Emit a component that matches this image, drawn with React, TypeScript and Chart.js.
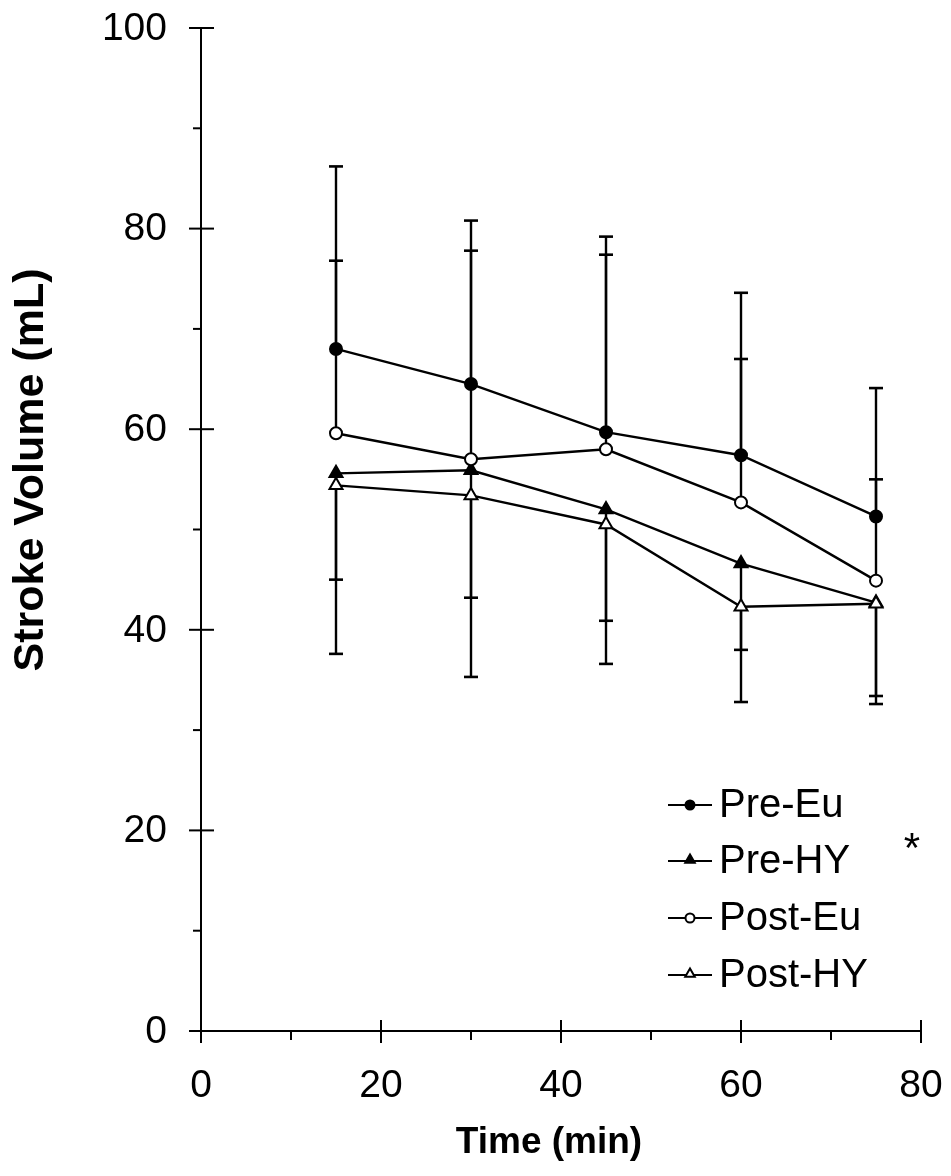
import { useEffect, useRef } from "react";
import { Chart, registerables } from "chart.js";

Chart.register(...registerables);

// Sampling times (min)
const times = [15, 30, 45, 60, 75];

// Mean stroke volume (mL) per condition
const preEu = [68.0, 64.5, 59.7, 57.4, 51.3];
const preHY = [55.6, 55.9, 52.0, 46.6, 42.7];
const postEu = [59.6, 57.0, 58.0, 52.7, 44.9];
const postHY = [54.4, 53.4, 50.5, 42.3, 42.6];

// Error bar ends (mean + SD for Eu, mean - SD for HY)
const preEuUpper = [86.2, 80.8, 79.2, 73.6, 64.1];
const postEuUpper = [76.8, 77.8, 77.4, 67.0, 55.0];
const preHYLower = [45.0, 43.2, 40.9, 38.0, 33.4];
const postHYLower = [37.6, 35.3, 36.6, 32.8, 32.6];

// Axis ticks
const xMajorTicks = [0, 20, 40, 60, 80];
const xMinorTicks = [10, 30, 50, 70];
const yMajorTicks = [0, 20, 40, 60, 80, 100];
const yMinorTicks = [10, 30, 50, 70, 90];

const seriesNames = ["Pre-Eu", "Pre-HY", "Post-Eu", "Post-HY"];
const xTitle = "Time (min)";
const yTitle = "Stroke Volume (mL)";
const significanceMark = "*";

const FONT = "'Liberation Sans', Arial, Helvetica, sans-serif";

type Marker = { style: "circle" | "triangle"; filled: boolean };
const markers: Marker[] = [
  { style: "circle", filled: true },
  { style: "triangle", filled: true },
  { style: "circle", filled: false },
  { style: "triangle", filled: false },
];

function drawMarker(
  ctx: CanvasRenderingContext2D,
  m: Marker,
  x: number,
  y: number,
  r: number
) {
  ctx.save();
  ctx.beginPath();
  if (m.style === "circle") {
    ctx.arc(x, y, r, 0, Math.PI * 2);
  } else {
    ctx.moveTo(x, y - r);
    ctx.lineTo(x + r * 0.866, y + r * 0.5);
    ctx.lineTo(x - r * 0.866, y + r * 0.5);
    ctx.closePath();
  }
  ctx.fillStyle = m.filled ? "#000" : "#fff";
  ctx.fill();
  ctx.lineWidth = 2;
  ctx.strokeStyle = "#000";
  ctx.stroke();
  ctx.restore();
}

const errorBarPlugin = {
  id: "errorBars",
  beforeDatasetsDraw(chart: any) {
    const { ctx, scales } = chart;
    const xs = scales.x;
    const ys = scales.y;
    ctx.save();
    ctx.strokeStyle = "#000";
    chart.data.datasets.forEach((ds: any) => {
      const ends: number[] = ds.errorEnds;
      ds.data.forEach((p: any, i: number) => {
        const px = xs.getPixelForValue(p.x);
        const py0 = ys.getPixelForValue(p.y);
        const py1 = ys.getPixelForValue(ends[i]);
        ctx.lineWidth = 2.4;
        ctx.beginPath();
        ctx.moveTo(px, py0);
        ctx.lineTo(px, py1);
        ctx.stroke();
        ctx.lineWidth = 2.6;
        ctx.beginPath();
        ctx.moveTo(px - 7, py1);
        ctx.lineTo(px + 7, py1);
        ctx.stroke();
      });
    });
    ctx.restore();
  },
};

const decorPlugin = {
  id: "decor",
  afterDraw(chart: any) {
    const { ctx, scales, chartArea } = chart;
    const xs = scales.x;
    const ys = scales.y;
    const left = chartArea.left;
    const bottom = chartArea.bottom;
    ctx.save();
    ctx.strokeStyle = "#000";
    ctx.fillStyle = "#000";
    ctx.lineWidth = 2;

    // y-axis ticks and labels
    ctx.font = `39px ${FONT}`;
    ctx.textBaseline = "middle";
    ctx.textAlign = "right";
    yMajorTicks.forEach((v) => {
      const py = ys.getPixelForValue(v);
      ctx.beginPath();
      ctx.moveTo(left - 12, py);
      ctx.lineTo(left + 13, py);
      ctx.stroke();
      ctx.fillText(String(v), left - 34, py + 1);
    });
    yMinorTicks.forEach((v) => {
      const py = ys.getPixelForValue(v);
      ctx.beginPath();
      ctx.moveTo(left - 8, py);
      ctx.lineTo(left, py);
      ctx.stroke();
    });

    // x-axis ticks and labels
    ctx.textAlign = "center";
    xMajorTicks.forEach((v) => {
      const px = xs.getPixelForValue(v);
      ctx.beginPath();
      ctx.moveTo(px, bottom - 11);
      ctx.lineTo(px, bottom + 12);
      ctx.stroke();
      ctx.fillText(String(v), px, bottom + 55);
    });
    xMinorTicks.forEach((v) => {
      const px = xs.getPixelForValue(v);
      ctx.beginPath();
      ctx.moveTo(px, bottom);
      ctx.lineTo(px, bottom + 9);
      ctx.stroke();
    });

    // axis titles
    ctx.font = `bold 37px ${FONT}`;
    ctx.fillText(xTitle, 549, 1143);
    ctx.save();
    ctx.translate(31, 470);
    ctx.rotate(-Math.PI / 2);
    ctx.font = `bold 43px ${FONT}`;
    ctx.fillText(yTitle, 0, 0);
    ctx.restore();

    // legend
    const rows = [805, 861, 918, 975];
    ctx.font = `40px ${FONT}`;
    seriesNames.forEach((name, i) => {
      const y = rows[i];
      ctx.beginPath();
      ctx.lineWidth = 2.2;
      ctx.moveTo(668, y);
      ctx.lineTo(712, y);
      ctx.stroke();
      const m = markers[i];
      drawMarker(
        ctx,
        m,
        690,
        m.style === "triangle" ? y - 1 : y,
        m.style === "triangle" ? 5.5 : 4.5
      );
      ctx.fillStyle = "#000";
      ctx.textAlign = "left";
      ctx.fillText(name, 719, y + 1);
    });
    ctx.font = `42px ${FONT}`;
    ctx.textAlign = "center";
    ctx.fillText(significanceMark, 912, 850);
    ctx.restore();
  },
};

function makeDataset(
  label: string,
  values: number[],
  ends: number[],
  m: Marker,
  order: number
) {
  return {
    label,
    data: times.map((t, i) => ({ x: t, y: values[i] })),
    errorEnds: ends,
    showLine: true,
    borderColor: "#000",
    borderWidth: 2.4,
    tension: 0,
    fill: false,
    pointStyle: m.style,
    pointRadius: m.style === "triangle" ? 7.5 : 6,
    pointBorderWidth: 2,
    pointBorderColor: "#000",
    pointBackgroundColor: m.filled ? "#000" : "#fff",
    order,
  };
}

export default function App() {
  const canvasRef = useRef<HTMLCanvasElement | null>(null);

  useEffect(() => {
    document.body.style.margin = "0";
    const canvas = canvasRef.current;
    if (!canvas) return;
    const chart = new Chart(canvas, {
      type: "scatter",
      data: {
        datasets: [
          makeDataset(seriesNames[0], preEu, preEuUpper, markers[0], 3),
          makeDataset(seriesNames[1], preHY, preHYLower, markers[1], 2),
          makeDataset(seriesNames[2], postEu, postEuUpper, markers[2], 1),
          makeDataset(seriesNames[3], postHY, postHYLower, markers[3], 0),
        ] as any,
      },
      options: {
        responsive: false,
        animation: false,
        devicePixelRatio: 1,
        layout: { padding: { top: 28, right: 30, left: 0, bottom: 0 } },
        plugins: {
          legend: { display: false },
          tooltip: { enabled: false },
        },
        scales: {
          x: {
            type: "linear",
            min: 0,
            max: 80,
            afterFit: (s: any) => {
              s.height = 145;
              s.paddingLeft = 0;
              s.paddingRight = 0;
            },
            grid: { display: false, drawTicks: false },
            border: { display: true, color: "#000", width: 2 },
            ticks: { display: false, stepSize: 20 },
          },
          y: {
            type: "linear",
            min: 0,
            max: 100,
            afterFit: (s: any) => {
              s.width = 201;
              s.paddingTop = 0;
              s.paddingBottom = 0;
            },
            grid: { display: false, drawTicks: false },
            border: { display: true, color: "#000", width: 2 },
            ticks: { display: false, stepSize: 20 },
          },
        },
      },
      plugins: [errorBarPlugin, decorPlugin],
    });
    return () => chart.destroy();
  }, []);

  return (
    <div style={{ width: 951, height: 1176, background: "#fff" }}>
      <canvas ref={canvasRef} width={951} height={1176} />
    </div>
  );
}
